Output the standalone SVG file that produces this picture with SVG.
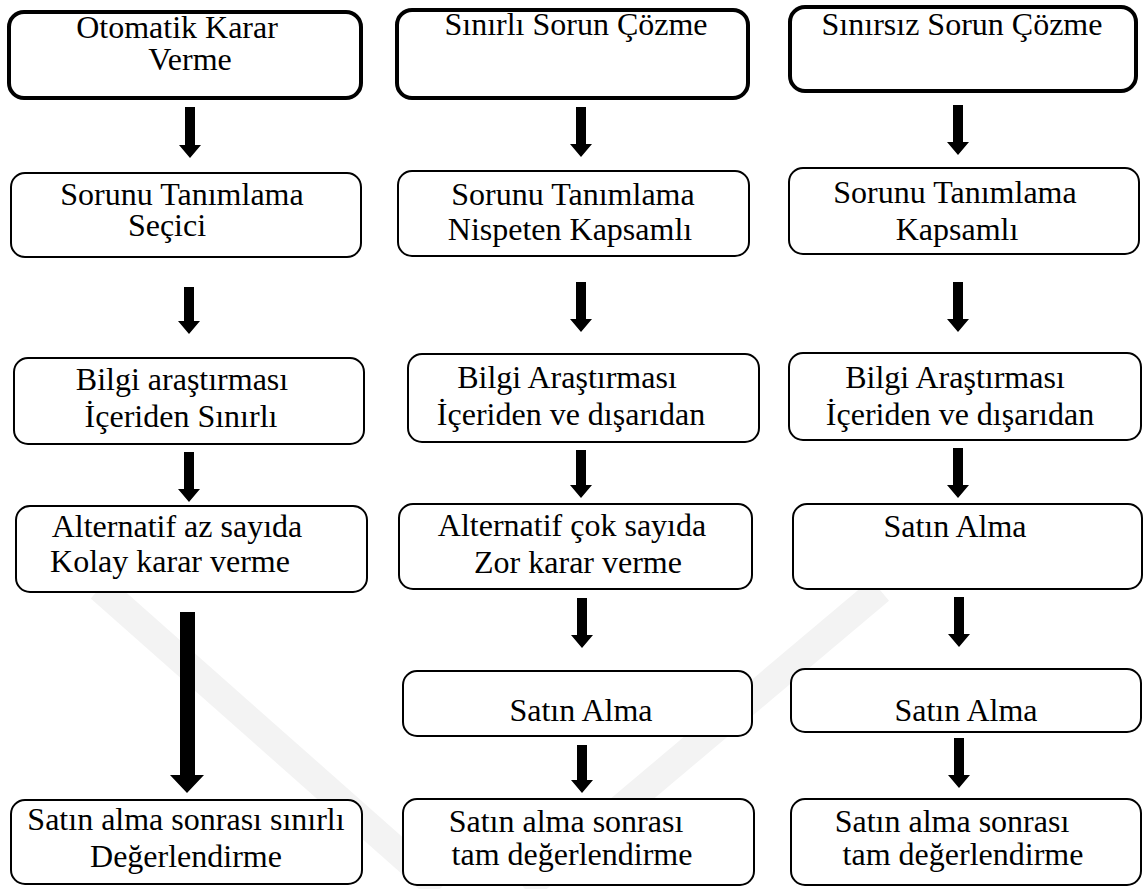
<svg xmlns="http://www.w3.org/2000/svg" width="1146" height="889" viewBox="0 0 1146 889">
<style>
.bx{fill:#fff;stroke:#000;stroke-width:2}
.bt{fill:#fff;stroke:#000;stroke-width:4}
.t{font-family:'Liberation Serif','Times New Roman',serif;font-size:32px;fill:#000;text-anchor:middle}
.ar{fill:#000}
.wm{fill:none;stroke:#f3f3f3;stroke-width:28;stroke-linecap:butt}
</style>
<rect width="1146" height="889" fill="#fff"/>
<g id="watermark">
<path class="wm" d="M100,588 L440,889"/>
<path class="wm" d="M880,590 L525,889"/>
</g>
<g id="c1n1"><rect class="bt" x="9" y="12" width="352" height="86" rx="15"/><text class="t" x="177" y="38">Otomatik Karar</text><text class="t" x="190" y="70">Verme</text></g>
<g id="c1n2"><rect class="bx" x="11" y="173" width="350" height="84" rx="14"/><text class="t" x="182" y="205">Sorunu Tanımlama</text><text class="t" x="167" y="236">Seçici</text></g>
<g id="c1n3"><rect class="bx" x="14" y="358" width="350" height="86" rx="14"/><text class="t" x="182" y="390">Bilgi araştırması</text><text class="t" x="181" y="427">İçeriden Sınırlı</text></g>
<g id="c1n4"><rect class="bx" x="16" y="506" width="351" height="86" rx="14"/><text class="t" x="177" y="537">Alternatif az sayıda</text><text class="t" x="170" y="572">Kolay karar verme</text></g>
<g id="c1n5"><rect class="bx" x="11" y="800" width="351" height="84" rx="14"/><text class="t" x="186" y="830">Satın alma sonrası sınırlı</text><text class="t" x="186" y="867">Değerlendirme</text></g>
<g id="c2n1"><rect class="bt" x="397" y="10" width="351" height="88" rx="15"/><text class="t" x="576" y="35">Sınırlı Sorun Çözme</text></g>
<g id="c2n2"><rect class="bx" x="398" y="171" width="351" height="85" rx="14"/><text class="t" x="573" y="205">Sorunu Tanımlama</text><text class="t" x="570" y="240">Nispeten Kapsamlı</text></g>
<g id="c2n3"><rect class="bx" x="408" y="354" width="351" height="88" rx="14"/><text class="t" x="567" y="388">Bilgi Araştırması</text><text class="t" x="571" y="425">İçeriden ve dışarıdan</text></g>
<g id="c2n4"><rect class="bx" x="399" y="504" width="353" height="85" rx="14"/><text class="t" x="572" y="536">Alternatif çok sayıda</text><text class="t" x="578" y="573">Zor karar verme</text></g>
<g id="c2n5"><rect class="bx" x="403" y="671" width="349" height="65" rx="14"/><text class="t" x="581" y="721">Satın Alma</text></g>
<g id="c2n6"><rect class="bx" x="403" y="799" width="351" height="86" rx="14"/><text class="t" x="566" y="832">Satın alma sonrası</text><text class="t" x="572" y="865">tam değerlendirme</text></g>
<g id="c3n1"><rect class="bt" x="790" y="7" width="346" height="84" rx="15"/><text class="t" x="962" y="35">Sınırsız Sorun Çözme</text></g>
<g id="c3n2"><rect class="bx" x="789" y="168" width="350" height="86" rx="14"/><text class="t" x="955" y="203">Sorunu Tanımlama</text><text class="t" x="957" y="240">Kapsamlı</text></g>
<g id="c3n3"><rect class="bx" x="789" y="353" width="352" height="87" rx="14"/><text class="t" x="955" y="388">Bilgi Araştırması</text><text class="t" x="960" y="425">İçeriden ve dışarıdan</text></g>
<g id="c3n4"><rect class="bx" x="793" y="504" width="349" height="85" rx="14"/><text class="t" x="955" y="537">Satın Alma</text></g>
<g id="c3n5"><rect class="bx" x="791" y="669" width="350" height="63" rx="14"/><text class="t" x="966" y="721">Satın Alma</text></g>
<g id="c3n6"><rect class="bx" x="791" y="799" width="350" height="86" rx="14"/><text class="t" x="952" y="832">Satın alma sonrası</text><text class="t" x="963" y="865">tam değerlendirme</text></g>
<g id="connectors">
<polygon class="ar" points="185,107 195,107 195,145 201,145 190,158 179,145 185,145"/>
<polygon class="ar" points="184,287 194,287 194,321 200,321 189,334 178,321 184,321"/>
<polygon class="ar" points="184,452 194,452 194,489 200,489 189,502 178,489 184,489"/>
<polygon class="ar" points="180,612 195,612 195,775 204,775 187,793 170,775 180,775"/>
<polygon class="ar" points="576,107 586,107 586,144 592,144 581,157 570,144 576,144"/>
<polygon class="ar" points="576,282 586,282 586,319 592,319 581,332 570,319 576,319"/>
<polygon class="ar" points="576,450 586,450 586,485 592,485 581,498 570,485 576,485"/>
<polygon class="ar" points="577,598 587,598 587,635 593,635 582,648 571,635 577,635"/>
<polygon class="ar" points="577,745 587,745 587,780 593,780 582,793 571,780 577,780"/>
<polygon class="ar" points="953,105 963,105 963,142 969,142 958,155 947,142 953,142"/>
<polygon class="ar" points="953,282 963,282 963,319 969,319 958,332 947,319 953,319"/>
<polygon class="ar" points="953,448 963,448 963,485 969,485 958,498 947,485 953,485"/>
<polygon class="ar" points="954,597 964,597 964,634 970,634 959,647 948,634 954,634"/>
<polygon class="ar" points="954,738 964,738 964,775 970,775 959,788 948,775 954,775"/>
</g>
</svg>
